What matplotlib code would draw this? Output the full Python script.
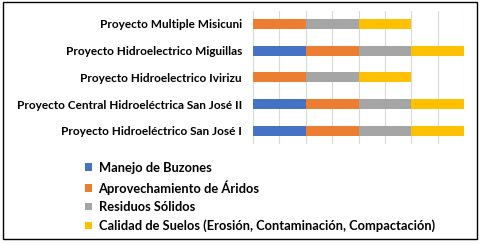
import numpy as np
import matplotlib
matplotlib.use('Agg')
from matplotlib import pyplot as plt
from matplotlib.patches import Rectangle

plt.rcParams['font.family'] = ['Lato', 'DejaVu Sans']
plt.rcParams['font.weight'] = 'bold'

proyectos = ['Proyecto Hidroeléctrico San José I',
             'Proyecto Central Hidroeléctrica San José II',
             'Proyecto Hidroelectrico Ivirizu',
             'Proyecto Hidroelectrico Miguillas',
             'Proyecto Multiple Misicuni']
series = ['Manejo de Buzones',
          'Aprovechamiento de Áridos',
          'Residuos Sólidos',
          'Calidad de Suelos (Erosión, Contaminación, Compactación)']
buzones = [1, 1, 0, 1, 0]
aridos = [1, 1, 1, 1, 1]
residuos = [1, 1, 1, 1, 1]
suelos = [1, 1, 1, 1, 1]
colores = ['#4472C4', '#ED7D31', '#A5A5A5', '#FFC000']

fig = plt.figure(figsize=(4.83, 2.45), dpi=100)
ax = fig.add_axes([0.524, 0.411, 0.437, 0.546])

y = np.arange(len(proyectos))
left = np.zeros(len(proyectos))
for vals, nombre, c in zip([buzones, aridos, residuos, suelos], series, colores):
    ax.barh(y, vals, left=left, height=0.37, color=c, label=nombre, zorder=3)
    left += np.array(vals)

ax.set_xlim(0, 4)
ax.set_ylim(-0.5, 4.5)
ax.set_xticks(np.arange(0, 4.01, 0.5))
ax.set_xticklabels([])
ax.xaxis.grid(True, color='#D9D9D9', linewidth=0.8, zorder=0)
ax.tick_params(axis='x', length=0)
ax.tick_params(axis='y', length=0, pad=8, labelsize=8.5)
ax.set_yticks(y)
ax.set_yticklabels(proyectos, fontweight='bold')
for s in ax.spines.values():
    s.set_visible(False)

fig.legend(loc='upper left', bbox_to_anchor=(0.176, 0.34), frameon=False,
           fontsize=9.3, handlelength=0.55, handleheight=0.55, handletextpad=0.5,
           labelspacing=0.5, borderpad=0, borderaxespad=0)

fig.patches.append(Rectangle((0.006, 0.025), 0.982, 0.968, transform=fig.transFigure,
                             fill=False, edgecolor='black', linewidth=1))

fig.savefig('out.png', dpi=100)
